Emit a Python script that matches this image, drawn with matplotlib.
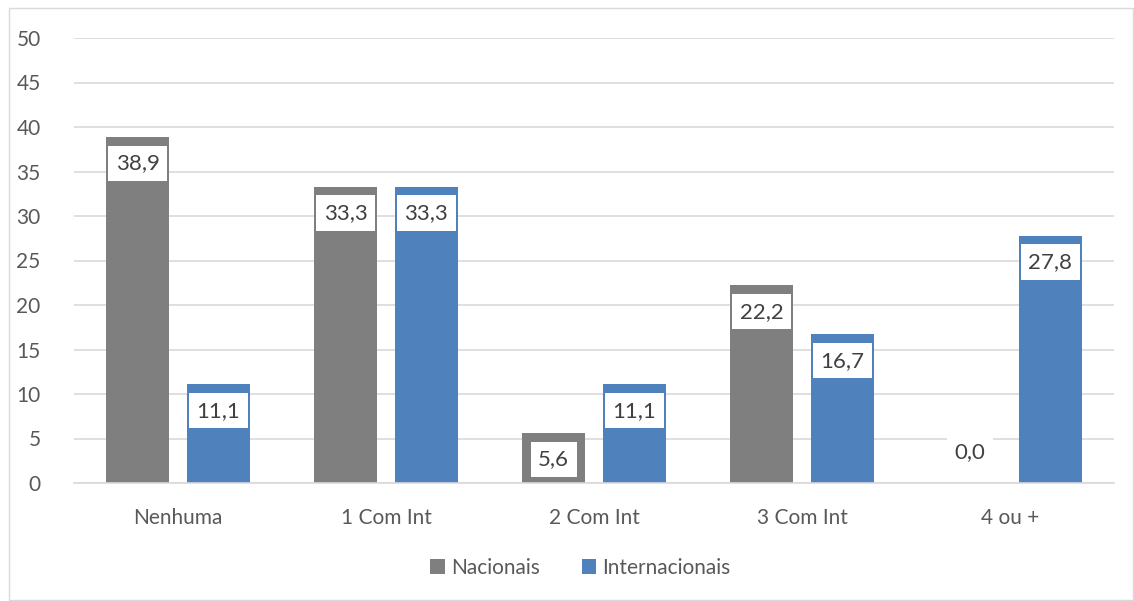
import matplotlib
matplotlib.use("Agg")
import matplotlib.pyplot as plt
from matplotlib.patches import Rectangle
import numpy as np

# dados
categorias = ["Nenhuma", "1 Com Int", "2 Com Int", "3 Com Int", "4 ou +"]
nacionais = [38.9, 33.3, 5.6, 22.2, 0.0]
internacionais = [11.1, 33.3, 11.1, 16.7, 27.8]

cor_nac = "#7f7f7f"
cor_int = "#4f81bd"
cor_texto = "#595959"
cor_grelha = "#d9d9d9"

plt.rcParams["font.family"] = ["Lato", "DejaVu Sans"]

fig = plt.figure(figsize=(11.34, 6.01), dpi=100)
# moldura do gráfico
fig.patches.append(Rectangle((9 / 1134, 1 / 601), 1 - 9 / 1134 - 0.0005, 1 - 9 / 601,
                             transform=fig.transFigure, fill=False,
                             edgecolor=cor_grelha, linewidth=1))

ax = fig.add_axes([74 / 1134, 118 / 601, 1040 / 1134, 445 / 601])

x = np.arange(len(categorias))
largura = 0.303
desvio = 0.194

b1 = ax.bar(x - desvio, nacionais, largura, color=cor_nac, label="Nacionais", zorder=2)
b2 = ax.bar(x + desvio, internacionais, largura, color=cor_int, label="Internacionais", zorder=2)

# etiquetas dos valores (caixa branca no topo da barra)
for barras, valores in ((b1, nacionais), (b2, internacionais)):
    for barra, v in zip(barras, valores):
        xc = barra.get_x() + barra.get_width() / 2
        dy = -19 if v > 0 else 22
        ax.annotate(("%.1f" % v).replace(".", ","), (xc, v), xytext=(0, dy),
                    textcoords="offset points", ha="center", va="center",
                    fontsize=16, color="#404040", zorder=3,
                    bbox=dict(boxstyle="square,pad=0.34", fc="white", ec="none"))

ax.set_ylim(0, 50)
ax.set_xlim(-0.5, len(categorias) - 0.5)
ax.set_yticks(range(0, 51, 5))
ax.set_xticks(x)
ax.set_xticklabels(categorias)
ax.grid(axis="y", color=cor_grelha, linewidth=1.2, zorder=0)
ax.set_axisbelow(True)
for s in ("top", "right", "left"):
    ax.spines[s].set_visible(False)
ax.spines["bottom"].set_color(cor_grelha)
ax.spines["bottom"].set_linewidth(1.2)
ax.tick_params(axis="both", length=0, labelsize=15, colors=cor_texto)
ax.tick_params(axis="y", pad=24)
ax.tick_params(axis="x", pad=18)

fig.legend(handles=[b1, b2], loc="center", bbox_to_anchor=(0.512, 1 - 568 / 601),
           ncol=2, frameon=False, fontsize=15, labelcolor=cor_texto,
           handlelength=0.7, handleheight=0.7, handletextpad=0.3, columnspacing=2.0)

fig.savefig("out.png", dpi=100)
